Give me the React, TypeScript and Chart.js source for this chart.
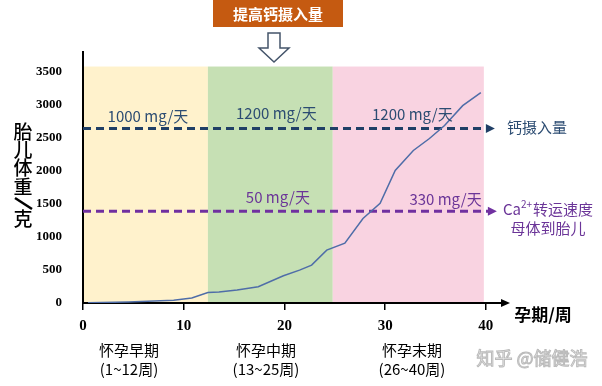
import React, { useEffect, useRef } from 'react';
import { Chart, registerables } from 'chart.js';
Chart.register(...registerables);

// ---- data ----
const weeks = [0.5, 4.5, 9, 10.8, 12.4, 13.5, 15.3, 17.4, 19.9, 21.5, 22.7, 24.2, 26, 27.8, 29.5, 31, 32.8, 34.4, 35.9, 37.7, 39.5];
const fetalWeight = [5, 15, 40, 75, 160, 165, 196, 246, 412, 498, 573, 800, 905, 1280, 1510, 2007, 2309, 2490, 2686, 2988, 3184];
const xTickValues = [0, 10, 20, 30, 40];
const yTickValues = [0, 500, 1000, 1500, 2000, 2500, 3000, 3500];
const bandStart = [0, 12.4, 24.8];
const bandEnd = [12.4, 24.8, 39.8];
const bandTop = 3580;
const intakeLevel = 2640;
const transferLevel = 1390;
const intakeLineEnd = 40.1;
const transferLineEnd = 40.3;
const intakeLabels = ['1000 mg/天', '1200 mg/天', '1200 mg/天'];
const transferLabels = ['50 mg/天', '330 mg/天'];
const trimesterNames = ['怀孕早期', '怀孕中期', '怀孕末期'];
const trimesterRanges = ['(1~12周)', '(13~25周)', '(26~40周)'];
const titleText = '提高钙摄入量';
const yTitleChars = ['胎', '儿', '体', '重', '/', '克'];
const xTitle = '孕期/周';
const intakeName = '钙摄入量';
const transferName = ['转运速度', '母体到胎儿'];
const watermark = '知乎 @储健浩';

const CJK = '"Noto Sans CJK SC", "Noto Sans", sans-serif';
const SERIF = '"Liberation Serif", "DejaVu Serif", serif';
const BLUE_LINE = '#203F66';
const BLUE_TEXT = '#2C4C72';
const PURPLE_LINE = '#7030A0';
const PURPLE_TEXT = '#6B3598';

function text(ctx: CanvasRenderingContext2D, s: string, x: number, y: number, font: string, color: string, align: CanvasTextAlign = 'center') {
  ctx.font = font;
  ctx.fillStyle = color;
  ctx.textAlign = align;
  ctx.textBaseline = 'middle';
  ctx.fillText(s, x, y);
}

const decor = {
  id: 'decor',
  beforeDraw(chart: any) {
    const { ctx, scales } = chart;
    const x = scales.x, y = scales.y;
    const colors = ['#FFF2CC', '#C6E0B4', '#F9D3E1'];
    ctx.save();
    for (let i = 0; i < bandStart.length; i++) {
      const x0 = x.getPixelForValue(bandStart[i]);
      const x1 = x.getPixelForValue(bandEnd[i]);
      const y0 = y.getPixelForValue(bandTop);
      const y1 = y.getPixelForValue(0);
      ctx.fillStyle = colors[i];
      ctx.fillRect(x0, y0, x1 - x0, y1 - y0);
    }
    ctx.restore();
  },
  afterDraw(chart: any) {
    const { ctx, scales, chartArea } = chart;
    const x = scales.x, y = scales.y;
    ctx.save();

    // x-axis arrowhead
    const ax = chartArea.right, ay = chartArea.bottom;
    ctx.fillStyle = '#000';
    ctx.beginPath();
    ctx.moveTo(ax + 4, ay);
    ctx.lineTo(ax - 5, ay - 4);
    ctx.lineTo(ax - 5, ay + 4);
    ctx.closePath();
    ctx.fill();

    // dashed line arrowheads
    const heads: [number, number, string][] = [
      [intakeLineEnd, intakeLevel, BLUE_LINE],
      [transferLineEnd, transferLevel, PURPLE_LINE],
    ];
    heads.forEach(([vx, vy, c]) => {
      const px = x.getPixelForValue(vx), py = y.getPixelForValue(vy);
      ctx.fillStyle = c;
      ctx.beginPath();
      ctx.moveTo(px + 8, py);
      ctx.lineTo(px - 1, py - 4.5);
      ctx.lineTo(px - 1, py + 4.5);
      ctx.closePath();
      ctx.fill();
    });

    // labels in chart
    const f15 = `15px ${CJK}`;
    const intakePos: [number, number][] = [[6.45, 2820], [19.2, 2865], [32.7, 2850]];
    intakeLabels.forEach((s, i) => text(ctx, s, x.getPixelForValue(intakePos[i][0]), y.getPixelForValue(intakePos[i][1]), f15, BLUE_TEXT));
    const transferPos: [number, number][] = [[19.35, 1606], [36.0, 1576]];
    transferLabels.forEach((s, i) => text(ctx, s, x.getPixelForValue(transferPos[i][0]), y.getPixelForValue(transferPos[i][1]), f15, PURPLE_TEXT));

    // right labels
    text(ctx, intakeName, 537, 127, f15, BLUE_TEXT);
    ctx.font = f15;
    const wCa = ctx.measureText('Ca').width;
    const wRest = ctx.measureText(transferName[0]).width;
    ctx.font = `10px ${CJK}`;
    const wSup = ctx.measureText('2+').width;
    const total = wCa + wSup + 1 + wRest;
    let sx = 548 - total / 2;
    text(ctx, 'Ca', sx, 209, f15, PURPLE_TEXT, 'left');
    sx += wCa;
    text(ctx, '2+', sx, 204, `10px ${CJK}`, PURPLE_TEXT, 'left');
    sx += wSup + 1;
    text(ctx, transferName[0], sx, 209, f15, PURPLE_TEXT, 'left');
    text(ctx, transferName[1], 548, 228, f15, PURPLE_TEXT);

    // title box
    ctx.fillStyle = '#C55A11';
    ctx.fillRect(213, 0, 130, 27);
    text(ctx, titleText, 278, 14, `bold 15px ${CJK}`, '#FFFFFF');

    // hollow down arrow
    ctx.beginPath();
    ctx.moveTo(268, 33);
    ctx.lineTo(280, 33);
    ctx.lineTo(280, 48);
    ctx.lineTo(289, 48);
    ctx.lineTo(274, 62);
    ctx.lineTo(259, 48);
    ctx.lineTo(268, 48);
    ctx.closePath();
    ctx.fillStyle = '#FFFFFF';
    ctx.fill();
    ctx.strokeStyle = '#44546A';
    ctx.lineWidth = 1.5;
    ctx.stroke();

    // y title (vertical)
    const ys = [132, 150, 168, 187, 203, 219];
    yTitleChars.forEach((c, i) => {
      if (c === '/') {
        ctx.strokeStyle = '#000';
        ctx.lineWidth = 2.5;
        ctx.beginPath();
        ctx.moveTo(15, ys[i] - 5);
        ctx.lineTo(32, ys[i] + 6);
        ctx.stroke();
      } else {
        text(ctx, c, 23, ys[i], `500 19px ${CJK}`, '#000');
      }
    });

    // x title
    text(ctx, xTitle, 543, 315, `bold 17px ${CJK}`, '#000');

    // trimester labels
    const cx = [129, 266, 412];
    trimesterNames.forEach((s, i) => text(ctx, s, cx[i], 350, f15, '#000'));
    trimesterRanges.forEach((s, i) => text(ctx, s, cx[i], 369, f15, '#000'));

    // watermark
    ctx.font = `18px ${CJK}`;
    ctx.textAlign = 'center';
    ctx.textBaseline = 'middle';
    ctx.lineWidth = 1;
    ctx.strokeStyle = '#BBBBBB';
    ctx.fillStyle = '#F6F6F6';
    ctx.fillText(watermark, 532, 358);
    ctx.strokeText(watermark, 532, 358);

    ctx.restore();
  },
};

export default function App() {
  const ref = useRef<HTMLCanvasElement>(null);
  useEffect(() => {
    if (!ref.current) return;
    const chart = new Chart(ref.current, {
      type: 'line',
      data: {
        datasets: [
          {
            label: 'weight',
            data: weeks.map((w, i) => ({ x: w, y: fetalWeight[i] })),
            borderColor: '#4F6DA8',
            borderWidth: 1.5,
            pointRadius: 0,
            tension: 0,
          },
          {
            label: 'intake',
            data: [{ x: 0, y: intakeLevel }, { x: intakeLineEnd, y: intakeLevel }],
            borderColor: BLUE_LINE,
            borderWidth: 3,
            borderDash: [8, 5],
            pointRadius: 0,
          },
          {
            label: 'transfer',
            data: [{ x: 0, y: transferLevel }, { x: transferLineEnd, y: transferLevel }],
            borderColor: PURPLE_LINE,
            borderWidth: 3,
            borderDash: [8, 5],
            pointRadius: 0,
          },
        ],
      },
      options: {
        animation: false,
        responsive: false,
        devicePixelRatio: 1,
        layout: { padding: { top: 52, right: 96, left: 0, bottom: 0 } },
        plugins: { legend: { display: false }, tooltip: { enabled: false } },
        scales: {
          x: {
            type: 'linear',
            min: 0,
            max: 42,
            afterBuildTicks: (s: any) => { s.ticks = xTickValues.map((v) => ({ value: v })); },
            afterFit: (s: any) => { s.height = 83; },
            grid: { display: true, drawOnChartArea: false, drawTicks: true, tickLength: 7, color: '#000', lineWidth: 1.5 },
            border: { display: true, color: '#000', width: 2 },
            ticks: { padding: 7, color: '#000', font: { family: SERIF, size: 15, weight: 'bold' }, callback: (v: any) => String(v) },
          },
          y: {
            type: 'linear',
            min: 0,
            max: 3800,
            afterBuildTicks: (s: any) => { s.ticks = yTickValues.map((v) => ({ value: v })); },
            afterFit: (s: any) => { s.width = 83; },
            grid: { display: false },
            border: { display: true, color: '#000', width: 2 },
            ticks: { padding: 13, color: '#000', font: { family: SERIF, size: 13, weight: 'bold' }, callback: (v: any) => String(v) },
          },
        },
      },
      plugins: [decor],
    } as any);
    return () => chart.destroy();
  }, []);
  return (
    <div style={{ position: 'absolute', left: 0, top: 0, width: 602, height: 386, background: '#fff' }}>
      <canvas ref={ref} width={602} height={386} style={{ display: 'block' }} />
    </div>
  );
}
